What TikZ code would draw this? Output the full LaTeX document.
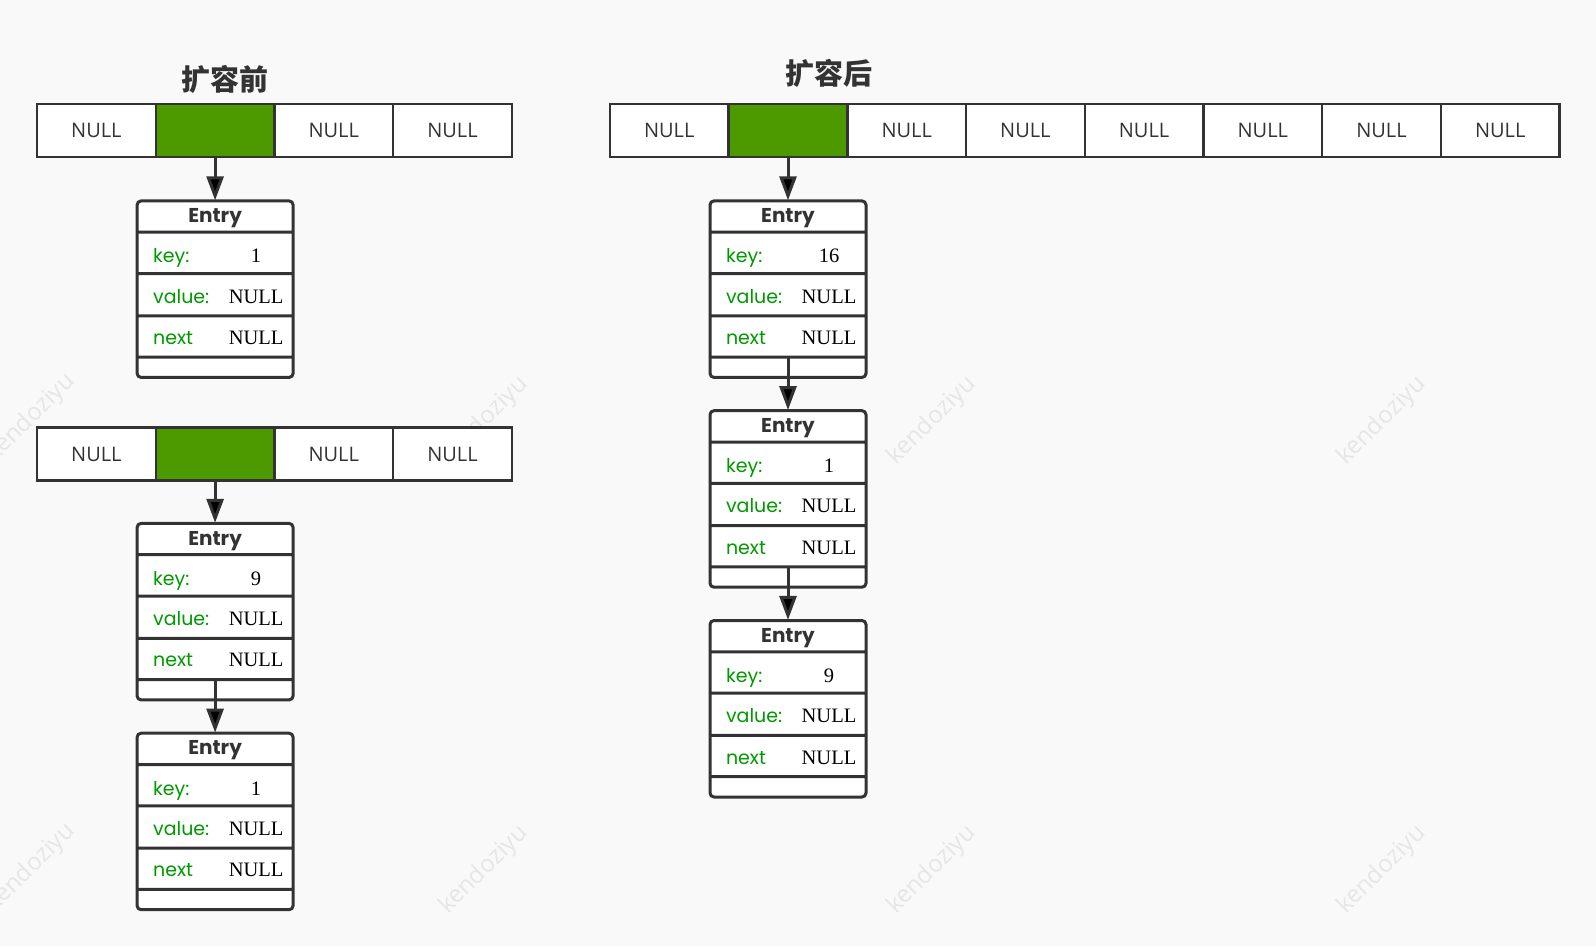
\documentclass[tikz,border=0pt]{standalone}
\usepackage{fontspec}
\setmainfont{Liberation Serif}
\newfontfamily\cellfont{Open Sans}
\newfontfamily\entryfont{Poppins}
\newfontfamily\cjk{Noto Sans CJK SC}
\usetikzlibrary{shapes, arrows.meta, positioning}

\definecolor{darkline}{HTML}{333333}
\definecolor{bucketgreen}{HTML}{4D9900}
\definecolor{keygreen}{HTML}{009900}
\definecolor{bgcolor}{HTML}{F9F9F9}
\definecolor{markgray}{HTML}{E6E6E6}

\newcommand\entryhead{\rule[-9pt]{0pt}{30pt}\makebox[\linewidth]{\fontsize{20}{24}\selectfont\textbf{Entry}}}
\newcommand\fieldname[1]{\hspace*{10pt}\textcolor{keygreen}{#1}}
\newcommand\fieldvalue[1]{\hfill\makebox[62pt]{\rmfamily\fontsize{20.5}{24}\selectfont #1}}

\begin{document}
\begin{tikzpicture}
	  [x=1pt, y=-1pt, node distance = 118.7pt, auto,
	  %
	  cell/.style={rectangle, draw=darkline, fill=white, line width=2.5pt, minimum width=118.7pt, minimum height=53pt, inner sep=0pt, text=darkline, font=\cellfont\fontsize{20}{24}\selectfont},
	  %
	  bucket/.style={cell, fill=bucketgreen},
	  %
	  entry/.style={rectangle split, rectangle split parts=5, draw=darkline!75, line width=1.3pt, fill=white, rounded corners=4pt, text width=144pt, inner xsep=6pt, inner ysep=0pt, text=darkline, font=\entryfont\fontsize{19}{22}\selectfont, postaction={draw=darkline, line width=3pt}},
	  %
	  title/.style={text=darkline, font=\cjk\bfseries\fontsize{29}{34}\selectfont},
	  %
	  watermark/.style={rotate=45, text=markgray, font=\cellfont\fontsize{24}{28}\selectfont},
	  %
	  customline/.style={draw=darkline, line width=3pt, arrows={-Triangle[length=24pt, width=17pt]}}]

	    \useasboundingbox (0,0) rectangle (1596,946);
	    \fill [bgcolor] (0,0) rectangle (1596,946);
	    \clip (0,0) rectangle (1596,946);

	    \node [watermark] (wm1) at (31,418) {kendoziyu};
	    \node [watermark] (wm2) at (484,421) {kendoziyu};
	    \node [watermark] (wm3) at (932,421) {kendoziyu};
	    \node [watermark] (wm4) at (1382,421) {kendoziyu};
	    \node [watermark] (wm5) at (31,868) {kendoziyu};
	    \node [watermark] (wm6) at (484,870) {kendoziyu};
	    \node [watermark] (wm7) at (932,870) {kendoziyu};
	    \node [watermark] (wm8) at (1382,870) {kendoziyu};

	    \node [title] (oldtitle) at (225,79) {扩容前};
	    \node [title] (newtitle) at (829,73) {扩容后};

	    % before resize, table with one entry
	    \node [cell] (old1) at (96.4,130.5) {NULL};
	    \node [bucket, right of=old1] (old2) {};
	    \node [cell, right of=old2] (old3) {NULL};
	    \node [cell, right of=old3] (old4) {NULL};

	    \node [entry, below=42pt of old2] (oldent1) {\entryhead
	      \nodepart{two}\rule[-10pt]{0pt}{40pt}\fieldname{key:}\fieldvalue{1}
	      \nodepart{three}\rule[-12pt]{0pt}{41pt}\fieldname{value:}\fieldvalue{NULL}
	      \nodepart{four}\rule[-12pt]{0pt}{40pt}\fieldname{next}\fieldvalue{NULL}
	      \nodepart{five}\rule{0pt}{19pt}};

	    % before resize, table with two entries
	    \node [cell] (mid1) at (96.4,454) {NULL};
	    \node [bucket, right of=mid1] (mid2) {};
	    \node [cell, right of=mid2] (mid3) {NULL};
	    \node [cell, right of=mid3] (mid4) {NULL};

	    \node [entry, below=41pt of mid2] (mident9) {\entryhead
	      \nodepart{two}\rule[-10pt]{0pt}{40pt}\fieldname{key:}\fieldvalue{9}
	      \nodepart{three}\rule[-12pt]{0pt}{41pt}\fieldname{value:}\fieldvalue{NULL}
	      \nodepart{four}\rule[-12pt]{0pt}{40pt}\fieldname{next}\fieldvalue{NULL}
	      \nodepart{five}\rule{0pt}{19pt}};
	    \node [entry, below=32pt of mident9] (mident1) {\entryhead
	      \nodepart{two}\rule[-10pt]{0pt}{40pt}\fieldname{key:}\fieldvalue{1}
	      \nodepart{three}\rule[-12pt]{0pt}{41pt}\fieldname{value:}\fieldvalue{NULL}
	      \nodepart{four}\rule[-12pt]{0pt}{40pt}\fieldname{next}\fieldvalue{NULL}
	      \nodepart{five}\rule{0pt}{19pt}};

	    % after resize
	    \node [cell] (new1) at (669.3,130.5) {NULL};
	    \node [bucket, right of=new1] (new2) {};
	    \node [cell, right of=new2] (new3) {NULL};
	    \node [cell, right of=new3] (new4) {NULL};
	    \node [cell, right of=new4] (new5) {NULL};
	    \node [cell, right of=new5] (new6) {NULL};
	    \node [cell, right of=new6] (new7) {NULL};
	    \node [cell, right of=new7] (new8) {NULL};

	    \node [entry, below=42pt of new2] (newent16) {\entryhead
	      \nodepart{two}\rule[-10pt]{0pt}{40pt}\fieldname{key:}\fieldvalue{16}
	      \nodepart{three}\rule[-12pt]{0pt}{41pt}\fieldname{value:}\fieldvalue{NULL}
	      \nodepart{four}\rule[-12pt]{0pt}{40pt}\fieldname{next}\fieldvalue{NULL}
	      \nodepart{five}\rule{0pt}{19pt}};
	    \node [entry, below=32pt of newent16] (newent1) {\entryhead
	      \nodepart{two}\rule[-10pt]{0pt}{40pt}\fieldname{key:}\fieldvalue{1}
	      \nodepart{three}\rule[-12pt]{0pt}{41pt}\fieldname{value:}\fieldvalue{NULL}
	      \nodepart{four}\rule[-12pt]{0pt}{40pt}\fieldname{next}\fieldvalue{NULL}
	      \nodepart{five}\rule{0pt}{19pt}};
	    \node [entry, below=32pt of newent1] (newent9) {\entryhead
	      \nodepart{two}\rule[-10pt]{0pt}{40pt}\fieldname{key:}\fieldvalue{9}
	      \nodepart{three}\rule[-12pt]{0pt}{41pt}\fieldname{value:}\fieldvalue{NULL}
	      \nodepart{four}\rule[-12pt]{0pt}{40pt}\fieldname{next}\fieldvalue{NULL}
	      \nodepart{five}\rule{0pt}{19pt}};

	    \draw [customline] (old2) -- (oldent1);
	    \draw [customline] (mid2) -- (mident9);
	    \draw [customline] (mident9.four split) -- (mident1);
	    \draw [customline] (new2) -- (newent16);
	    \draw [customline] (newent16.four split) -- (newent1);
	    \draw [customline] (newent1.four split) -- (newent9);
	  \end{tikzpicture}
\end{document}
